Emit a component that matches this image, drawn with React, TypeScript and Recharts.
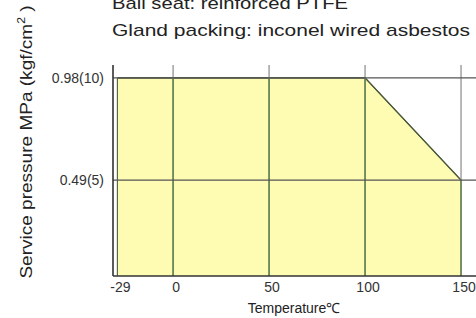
import React from "react";
import { ComposedChart, Area, XAxis, YAxis, ReferenceLine } from "recharts";

const temperatures = [-29, 100, 150];
const pressures = [0.98, 0.98, 0.49];
const xTicks = [-29, 0, 50, 100, 150];
const gridX = [0, 50, 100, 150];
const yTicks = [0.49, 0.98];
const yTickLabels: Record<string, string> = { "0.49": "0.49(5)", "0.98": "0.98(10)" };
const titleLines = ["Ball seat: reinforced PTFE", "Gland packing: inconel wired asbestos"];

const data = temperatures.map((t, i) => ({ t, p: pressures[i] }));

const FONT = "'Liberation Sans', Arial, sans-serif";
const FILL = "#FEFBB2";
const GREEN = "#5C8048";
const GREY = "#8a8a8a";
const DARK = "#333";

const xDomain: [number, number] = [-31.3, 157.8];
const yDomain: [number, number] = [0.03, 1.042];

const limitAt = (x: number) => {
  for (let i = 0; i < temperatures.length - 1; i++) {
    if (x >= temperatures[i] && x <= temperatures[i + 1]) {
      const f = (x - temperatures[i]) / (temperatures[i + 1] - temperatures[i]);
      return pressures[i] + f * (pressures[i + 1] - pressures[i]);
    }
  }
  return yDomain[0];
};

export default function App() {
  return (
    <div style={{ position: "absolute", left: 0, top: 0, width: 476, height: 318, background: "#fff", fontFamily: FONT }}>
      <ComposedChart width={476} height={318} data={data} margin={{ top: 65, right: 0, bottom: 0, left: 0 }}>
        <XAxis
          dataKey="t"
          type="number"
          domain={xDomain}
          ticks={xTicks}
          allowDataOverflow
          height={42}
          tickLine={false}
          axisLine={{ stroke: DARK, strokeWidth: 1.6 }}
          tick={{ fontSize: 14, fill: "#333", fontFamily: FONT, dx: 3 }}
          tickMargin={0}
        />
        <YAxis
          type="number"
          domain={yDomain}
          ticks={yTicks}
          allowDataOverflow
          width={113}
          tickLine={false}
          axisLine={{ stroke: DARK, strokeWidth: 1.6 }}
          tick={{ fontSize: 14, fill: "#333", fontFamily: FONT }}
          tickMargin={3}
          tickFormatter={(v: number) => yTickLabels[String(v)] ?? String(v)}
        />
        <Area
          dataKey="p"
          type="linear"
          fill={FILL}
          fillOpacity={1}
          stroke="#4a5a3a"
          strokeWidth={1.2}
          isAnimationActive={false}
          dot={false}
          activeDot={false}
        />
        {gridX.map((x) => (
          <ReferenceLine key={"g" + x} x={x} stroke={GREY} strokeWidth={1.2} />
        ))}
        {gridX.map((x) => (
          <ReferenceLine
            key={"gg" + x}
            segment={[{ x, y: yDomain[0] }, { x, y: limitAt(x) }]}
            stroke={GREEN}
            strokeWidth={1.4}
          />
        ))}
        <ReferenceLine
          segment={[{ x: temperatures[0], y: yDomain[0] }, { x: temperatures[0], y: pressures[0] }]}
          stroke="#5a6a4a"
          strokeWidth={1.2}
        />
        {yTicks.map((y) => (
          <ReferenceLine key={"h" + y} y={y} stroke="#555" strokeWidth={1.2} />
        ))}
        <Area
          dataKey="p"
          type="linear"
          fill="none"
          stroke="#4a5a3a"
          strokeWidth={1.2}
          isAnimationActive={false}
          dot={false}
          activeDot={false}
        />
      </ComposedChart>
      <svg width={476} height={318} style={{ position: "absolute", left: 0, top: 0, pointerEvents: "none" }}>
        <text x={112} y={9} fontSize={17} fill="#222" fontFamily={FONT} textLength={236} lengthAdjust="spacingAndGlyphs">
          {titleLines[0]}
        </text>
        <text x={112} y={36} fontSize={17} fill="#222" fontFamily={FONT} textLength={358} lengthAdjust="spacingAndGlyphs">
          {titleLines[1]}
        </text>
        <text x={294} y={313} fontSize={14} fill="#222" fontFamily={FONT} textAnchor="middle">Temperature℃</text>
        <text
          x={0}
          y={0}
          fontSize={17}
          fill="#222"
          fontFamily={FONT}
          textAnchor="middle"
          transform="translate(32,142) rotate(-90) scale(1.12,1)"
        >
          Service pressure MPa (kgf/cm<tspan dy={-7} fontSize={11}>2</tspan><tspan dy={7}> )</tspan>
        </text>
      </svg>
    </div>
  );
}
